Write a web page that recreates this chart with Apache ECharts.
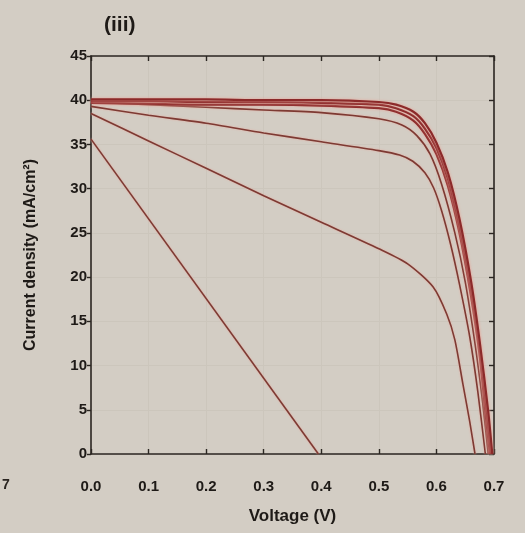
<!DOCTYPE html>
<html>
<head>
<meta charset="utf-8">
<script src="https://cdn.jsdelivr.net/npm/echarts@6/dist/echarts.min.js"></script>
<style>
  html, body { margin: 0; padding: 0; background: #d3cdc4; }
  #chart { width: 525px; height: 533px; }
</style>
</head>
<body>
<div id="chart"></div>
<script>
// J-V curves, voltage (V) and current density (mA/cm2)
const bundleAV = [0, 0.1, 0.2, 0.3, 0.4, 0.5, 0.53, 0.56, 0.58, 0.6, 0.62, 0.64, 0.66, 0.675, 0.69, 0.697]
const bundleAJ = [40.1, 40.1, 40.1, 40.0, 40.0, 39.8, 39.5, 38.7, 37.4, 35.2, 31.8, 26.6, 19.6, 12.8, 4.8, 0]
const bundleBV = [0, 0.1, 0.2, 0.3, 0.4, 0.5, 0.53, 0.56, 0.58, 0.6, 0.62, 0.64, 0.66, 0.675, 0.688, 0.695]
const bundleBJ = [39.9, 39.9, 39.8, 39.8, 39.7, 39.5, 39.1, 38.2, 36.8, 34.6, 31.1, 25.8, 18.8, 12.0, 4.6, 0]
const bundleCV = [0, 0.1, 0.2, 0.3, 0.4, 0.5, 0.53, 0.56, 0.58, 0.6, 0.62, 0.64, 0.66, 0.675, 0.686, 0.693]
const bundleCJ = [39.7, 39.6, 39.5, 39.5, 39.4, 39.1, 38.7, 37.7, 36.2, 33.9, 30.3, 25.0, 17.9, 11.2, 4.2, 0]
const curve2V = [0, 0.1, 0.2, 0.3, 0.4, 0.5, 0.54, 0.566, 0.589, 0.609, 0.632, 0.65, 0.667, 0.68, 0.69]
const curve2J = [39.8, 39.5, 39.2, 38.9, 38.6, 37.9, 37.2, 36.0, 33.9, 30.5, 25.0, 19.5, 12.5, 6, 0]
const curve3V = [0, 0.1, 0.2, 0.3, 0.4, 0.5, 0.536, 0.559, 0.58, 0.595, 0.609, 0.625, 0.64, 0.658, 0.672, 0.685]
const curve3J = [39.3, 38.3, 37.4, 36.3, 35.3, 34.3, 33.8, 33.1, 31.8, 30.1, 27.5, 23.6, 19.2, 13.2, 7, 0]
const curve4V = [0, 0.1, 0.2, 0.3, 0.4, 0.5, 0.55, 0.594, 0.618, 0.632, 0.646, 0.658, 0.667]
const curve4J = [38.5, 35.4, 32.3, 29.2, 26.2, 23.2, 21.5, 18.9, 15.8, 12.9, 7.9, 3.6, 0]
const curve5V = [0, 0.395]
const curve5J = [35.6, 0]

const zip = (v, j) => v.map((x, i) => [x, j[i]])

const font = 'Liberation Sans'
const axisColor = '#2b2622'
const textColor = '#1e1a17'

const thick = (v, j) => ({
  type: 'line',
  data: zip(v, j),
  showSymbol: false,
  smooth: 0.25,
  lineStyle: { color: '#8c2a2a', width: 2.2, shadowColor: '#e9a397', shadowBlur: 3 },
  z: 3,
})
const thin = (v, j) => ({
  type: 'line',
  data: zip(v, j),
  showSymbol: false,
  smooth: 0.25,
  lineStyle: { color: '#7d3a33', width: 1.6, shadowColor: '#e6aa9e', shadowBlur: 2 },
  z: 2,
})

const frameAxis = {
  type: 'value',
  axisLine: { show: true, onZero: false, lineStyle: { color: axisColor, width: 1.6 } },
  axisTick: { show: true, inside: true, length: 5, lineStyle: { color: axisColor, width: 1.4 } },
  axisLabel: { show: false },
  splitLine: { show: false },
}

const option = {
  backgroundColor: '#d3cdc4',
  animation: false,
  title: {
    text: '(iii)',
    left: 99,
    top: 10,
    textStyle: { fontFamily: font, fontSize: 21, fontWeight: 'bold', color: textColor },
  },
  graphic: [
    { type: 'text', left: 2, top: 478, style: { text: '7', fontFamily: font, fontSize: 14, fontWeight: 'bold', fill: '#2a2521' } },
  ],
  grid: { left: 91, right: 31, top: 56, bottom: 79 },
  xAxis: [
    {
      type: 'value',
      min: 0,
      max: 0.7,
      interval: 0.1,
      name: 'Voltage (V)',
      nameLocation: 'middle',
      nameGap: 54,
      nameTextStyle: { fontFamily: font, fontSize: 17, fontWeight: 'bold', color: textColor },
      axisLine: { onZero: false, lineStyle: { color: axisColor, width: 1.6 } },
      axisTick: { inside: true, length: 5, lineStyle: { color: axisColor, width: 1.4 } },
      axisLabel: {
        margin: 25,
        fontFamily: font,
        fontSize: 15,
        fontWeight: 'bold',
        color: textColor,
        formatter: (v) => v.toFixed(1),
      },
      splitLine: { show: true, lineStyle: { color: '#ccc6bc', width: 1 } },
    },
    { ...frameAxis, position: 'top', min: 0, max: 0.7, interval: 0.1 },
  ],
  yAxis: [
    {
      type: 'value',
      min: 0,
      max: 45,
      interval: 5,
      name: 'Current density (mA/cm²)',
      nameLocation: 'middle',
      nameGap: 52,
      nameTextStyle: { fontFamily: font, fontSize: 16, fontWeight: 'bold', color: textColor },
      axisLine: { show: true, onZero: false, lineStyle: { color: axisColor, width: 1.6 } },
      axisTick: { show: true, inside: false, length: 4, lineStyle: { color: axisColor, width: 1.4 } },
      axisLabel: { margin: 4, fontFamily: font, fontSize: 15, fontWeight: 'bold', color: textColor },
      splitLine: { show: true, lineStyle: { color: '#ccc6bc', width: 1 } },
    },
    { ...frameAxis, position: 'right', min: 0, max: 45, interval: 5 },
  ],
  series: [
    thin(curve5V, curve5J),
    thin(curve4V, curve4J),
    thin(curve3V, curve3J),
    thin(curve2V, curve2J),
    thick(bundleCV, bundleCJ),
    thick(bundleBV, bundleBJ),
    thick(bundleAV, bundleAJ),
  ],
}

const chart = echarts.init(document.getElementById('chart'))
chart.setOption(option)
</script>
</body>
</html>
